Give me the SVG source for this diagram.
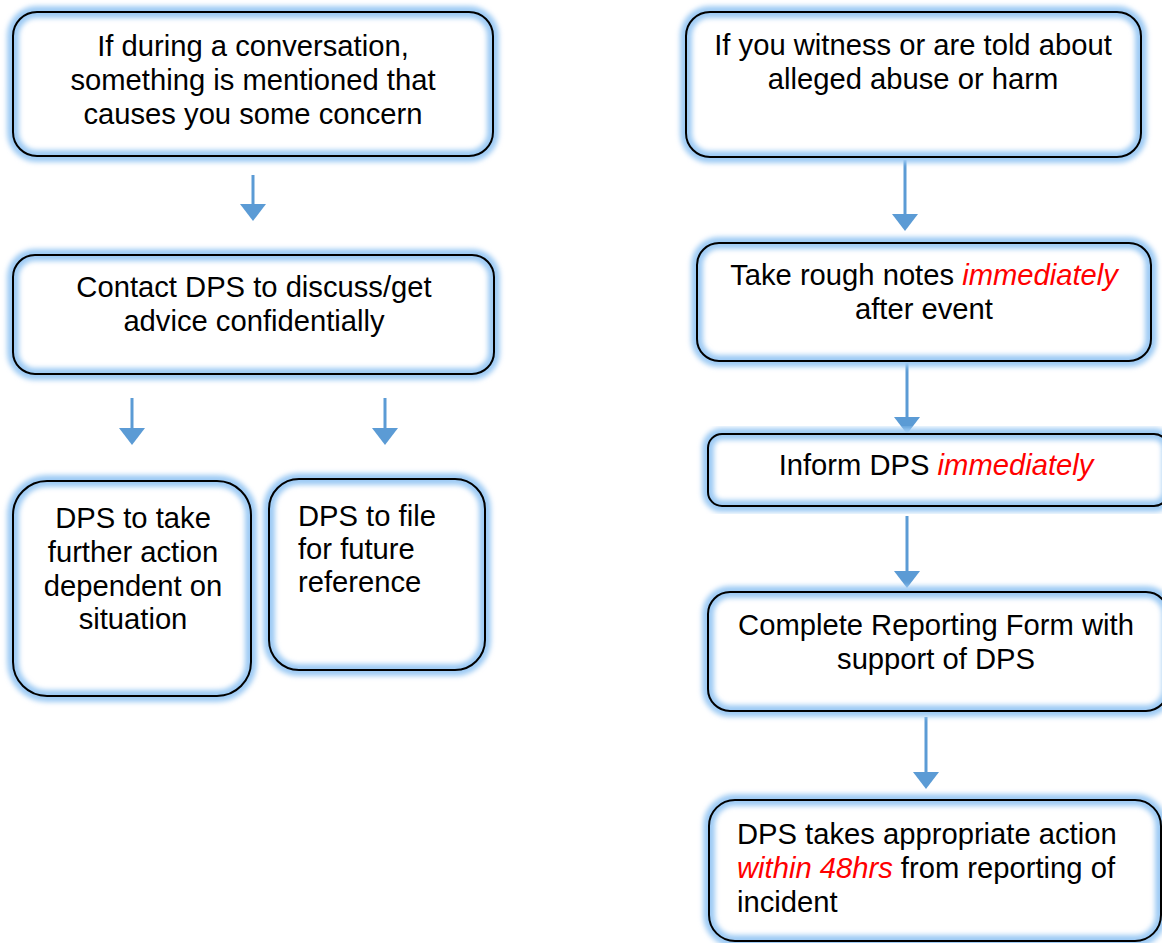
<svg xmlns="http://www.w3.org/2000/svg" width="1162" height="943" viewBox="0 0 1162 943">
<style>
text{font-family:"Liberation Sans",Arial,sans-serif;font-size:29.2px;fill:#000}
.c{text-anchor:middle}
.r{fill:#ff0000;font-style:italic}
.bg{fill:#fff;stroke:none}
.glow{fill:none;stroke:#9ecbf4;stroke-width:12;filter:url(#blur)}
.bd{fill:none;stroke:#000;stroke-width:2}
.conn line{stroke:#5b9bd5;stroke-width:3}
.conn path{fill:#5b9bd5}
</style>
<defs>
<filter id="blur" x="-10%" y="-10%" width="120%" height="120%"><feGaussianBlur stdDeviation="2.8"/></filter>
</defs>
<rect width="1162" height="943" fill="#fff"/>

<g id="connectors" class="conn">
<line x1="253" y1="175" x2="253" y2="204"/><path d="M240,204 L266,204 L253,221 Z"/>
<line x1="132" y1="398" x2="132" y2="428"/><path d="M119,428 L145,428 L132,445 Z"/>
<line x1="385" y1="398" x2="385" y2="428"/><path d="M372,428 L398,428 L385,445 Z"/>
<line x1="905" y1="160" x2="905" y2="214"/><path d="M892,214 L918,214 L905,231 Z"/>
<line x1="907" y1="363" x2="907" y2="417"/><path d="M894,417 L920,417 L907,434 Z"/>
<line x1="907" y1="516" x2="907" y2="571"/><path d="M894,571 L920,571 L907,588 Z"/>
<line x1="926" y1="717" x2="926" y2="772"/><path d="M913,772 L939,772 L926,789 Z"/>
</g>

<g id="n1">
<rect class="bg" x="13" y="12" width="480" height="144" rx="24"/>
<rect class="glow" x="13" y="12" width="480" height="144" rx="24"/>
<rect class="bd" x="13" y="12" width="480" height="144" rx="24"/>
<text class="c" x="253" y="56">If during a conversation,</text>
<text class="c" x="253" y="90">something is mentioned that</text>
<text class="c" x="253" y="124">causes you some concern</text>
</g>

<g id="n2">
<rect class="bg" x="13" y="255" width="481" height="119" rx="22"/>
<rect class="glow" x="13" y="255" width="481" height="119" rx="22"/>
<rect class="bd" x="13" y="255" width="481" height="119" rx="22"/>
<text class="c" x="254" y="297">Contact DPS to discuss/get</text>
<text class="c" x="254" y="331">advice confidentially</text>
</g>

<g id="n3">
<rect class="bg" x="13" y="481" width="238" height="215" rx="34"/>
<rect class="glow" x="13" y="481" width="238" height="215" rx="34"/>
<rect class="bd" x="13" y="481" width="238" height="215" rx="34"/>
<text class="c" x="133" y="528">DPS to take</text>
<text class="c" x="133" y="562">further action</text>
<text class="c" x="133" y="596">dependent on</text>
<text class="c" x="133" y="629">situation</text>
</g>

<g id="n4">
<rect class="bg" x="269" y="479" width="216" height="191" rx="30"/>
<rect class="glow" x="269" y="479" width="216" height="191" rx="30"/>
<rect class="bd" x="269" y="479" width="216" height="191" rx="30"/>
<text x="298" y="526">DPS to file</text>
<text x="298" y="559">for future</text>
<text x="298" y="592">reference</text>
</g>

<g id="n5">
<rect class="bg" x="686" y="12" width="455" height="145" rx="24"/>
<rect class="glow" x="686" y="12" width="455" height="145" rx="24"/>
<rect class="bd" x="686" y="12" width="455" height="145" rx="24"/>
<text class="c" x="913" y="55">If you witness or are told about</text>
<text class="c" x="913" y="89">alleged abuse or harm</text>
</g>

<g id="n6">
<rect class="bg" x="697" y="243" width="454" height="118" rx="22"/>
<rect class="glow" x="697" y="243" width="454" height="118" rx="22"/>
<rect class="bd" x="697" y="243" width="454" height="118" rx="22"/>
<text class="c" x="924" y="285">Take rough notes <tspan class="r">immediately</tspan></text>
<text class="c" x="924" y="319">after event</text>
</g>

<g id="n7">
<rect class="bg" x="708" y="434" width="460" height="72" rx="14"/>
<rect class="glow" x="708" y="434" width="460" height="72" rx="14"/>
<rect class="bd" x="708" y="434" width="460" height="72" rx="14"/>
<text class="c" x="936" y="475">Inform DPS <tspan class="r">immediately</tspan></text>
</g>

<g id="n8">
<rect class="bg" x="708" y="592" width="460" height="119" rx="22"/>
<rect class="glow" x="708" y="592" width="460" height="119" rx="22"/>
<rect class="bd" x="708" y="592" width="460" height="119" rx="22"/>
<text class="c" x="936" y="635">Complete Reporting Form with</text>
<text class="c" x="936" y="669">support of DPS</text>
</g>

<g id="n9">
<rect class="bg" x="709" y="800" width="452" height="141" rx="26"/>
<rect class="glow" x="709" y="800" width="452" height="141" rx="26"/>
<rect class="bd" x="709" y="800" width="452" height="141" rx="26"/>
<text x="737" y="844">DPS takes appropriate action</text>
<text x="737" y="878"><tspan class="r">within 48hrs</tspan> from reporting of</text>
<text x="737" y="912">incident</text>
</g>
</svg>
